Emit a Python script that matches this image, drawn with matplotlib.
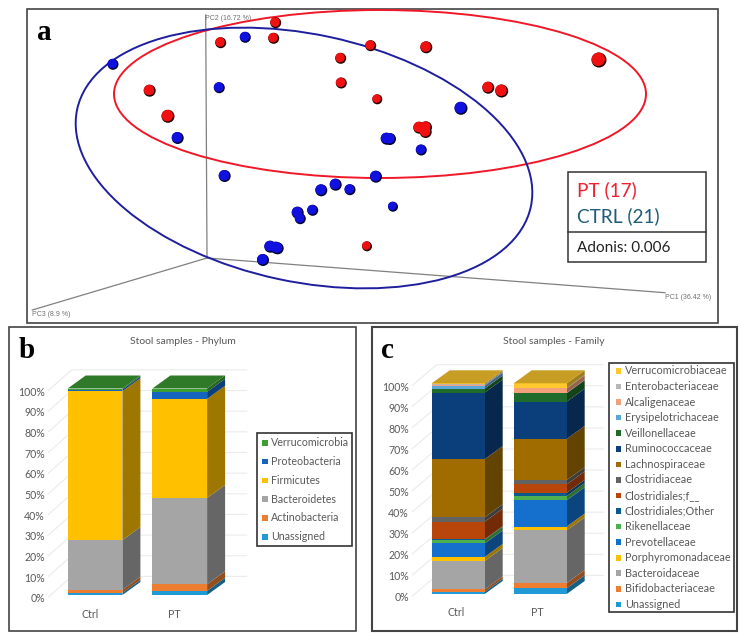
import matplotlib
matplotlib.use("Agg")
import matplotlib.pyplot as plt
from matplotlib.patches import Ellipse, Polygon, Rectangle
from matplotlib.transforms import offset_copy

W, H = 747, 639
plt.rcParams["font.family"] = ["Lato", "DejaVu Sans"]

# ---- panel a: ordination points (image pixels)
pt_x = [275.7, 220.7, 273.7, 370.7, 340.7, 341.3, 149.7, 168.0, 377.3, 367.0,
        426.3, 599.0, 488.3, 501.7, 419.3, 426.0, 425.7]
pt_y = [22.7, 42.7, 38.3, 45.7, 58.3, 83.0, 90.7, 116.3, 99.3, 246.3,
        47.3, 60.0, 87.7, 91.0, 127.7, 127.3, 132.0]
pt_d = [11, 11, 11, 11, 11, 11, 12, 13, 10, 10, 12, 15, 12, 13, 12, 12, 12]

ctrl_x = [113.0, 245.3, 219.3, 177.7, 224.7, 321.3, 335.7, 350.0, 312.7, 297.7, 300.3,
          270.3, 277.7, 276.0, 263.0, 376.0, 461.0, 386.7, 390.0, 421.3, 393.0]
ctrl_y = [64.3, 37.3, 87.7, 138.0, 176.0, 190.3, 184.7, 189.7, 210.3, 212.7, 218.7,
          246.7, 248.3, 247.7, 260.0, 176.7, 108.3, 138.7, 139.0, 150.0, 206.7]
ctrl_d = [11, 11, 11, 12, 12, 12, 12, 11, 11, 12, 11, 12, 12, 12, 12, 12, 13, 12, 12, 11, 10]

# ---- panel b: phylum, cumulative percent at the top of each segment
phylum_names = ["Unassigned", "Actinobacteria", "Bacteroidetes", "Firmicutes",
                "Proteobacteria", "Verrucomicrobia"]
phylum_colors = ["#1F9AD6", "#ED7D31", "#A5A5A5", "#FFC000", "#1565C0", "#3C9D33"]
phylum_ctrl = [1.0, 2.5, 26.6, 98.7, 99.5, 100]
phylum_pt = [2.0, 5.2, 47.0, 95.0, 98.4, 100]

# ---- panel c: family, cumulative percent as well
family_names = ["Unassigned", "Bifidobacteriaceae", "Bacteroidaceae", "Porphyromonadaceae",
                "Prevotellaceae", "Rikenellaceae", "Clostridiales;Other", "Clostridiales;f__",
                "Clostridiaceae", "Lachnospiraceae", "Ruminococcaceae", "Veillonellaceae",
                "Erysipelotrichaceae", "Alcaligenaceae", "Enterobacteriaceae",
                "Verrucomicrobiaceae"]
family_colors = ["#1F9AD6", "#ED7D31", "#A5A5A5", "#FFC000", "#1470CC", "#4CAF50",
                 "#0B5A8C", "#B8450A", "#636363", "#A06C00", "#0B3F7C", "#1F6B2C",
                 "#5BA8D8", "#F4A07A", "#B7B7B7", "#FFC92E"]
family_ctrl = [1.0, 2.2, 15.7, 17.6, 24.0, 25.8, 26.0, 34.3, 36.4, 64.0, 95.6, 97.5,
               98.9, 99.0, 99.5, 100]
family_pt = [2.7, 5.2, 30.2, 32.0, 44.5, 46.5, 48.0, 52.0, 54.0, 73.6, 91.3, 95.3,
             95.4, 97.6, 97.8, 100]

groups = ["Ctrl", "PT"]
pct_ticks = list(range(0, 101, 10))

GREY = "#595959"
DEPTH_X, DEPTH_Y = 18, 13


def shade(color, k):
    r, g, b = matplotlib.colors.to_rgb(color)
    return (r * k, g * k, b * k)


def frame(ax, x0, y0, x1, y1, lw=1.2, ec="#444444"):
    ax.add_patch(Rectangle((x0, y0), x1 - x0, y1 - y0, fc="none", ec=ec, lw=lw))


def spheres(ax, xs, ys, ds, color, dark):
    s_dark = [(d * 0.72) ** 2 for d in ds]
    s_main = [((d - 1.5) * 0.72) ** 2 for d in ds]
    ax.scatter(xs, ys, s=s_dark, color=dark, lw=0, zorder=4)
    tr = offset_copy(ax.transData, fig=ax.figure, x=-0.5, y=0.5, units="points")
    ax.scatter(xs, ys, s=s_main, color=color, lw=0, transform=tr, zorder=5)


def stacked_3d(fig, x_bar0, pitch, bar_w, y0, y100, grid_x, colors, ctrl, pt, label_x, cat_y):
    """Excel style 3D stacked columns, one axes per panel with y in percent."""
    left = x_bar0 + bar_w / 2 - pitch / 2
    ax = fig.add_axes([left / W, 1 - y0 / H, 2 * pitch / W, (y0 - y100) / H])
    ax.set_xlim(-0.5, 1.5)
    ax.set_ylim(0, 100)
    ax.axis("off")
    ax.patch.set_alpha(0)

    ux = pitch
    uy = (y0 - y100) / 100
    dx = DEPTH_X / ux
    dy = DEPTH_Y / uy
    w = bar_w / ux

    # back wall and floor lines, very light
    gx = [(g - left) / ux - 0.5 for g in grid_x]
    for t in pct_ticks:
        ax.plot(gx, [t - 1, t + 20.7 / uy - 1, t + 20.7 / uy - 1],
                color="#EBEBEB", lw=0.8, clip_on=False, zorder=1)
        ax.text(gx[0] - 3.5 / ux, t - 1.8, f"{t}%", ha="right", va="center",
                fontsize=7.6, color=GREY, clip_on=False)

    for i, vals in enumerate([ctrl, pt]):
        bottom = 0
        xl = i - w / 2
        xr = i + w / 2
        for top, c in zip(vals, colors):
            ax.bar(i, top - bottom, w, bottom=bottom, color=c, lw=0, zorder=3)
            ax.add_patch(Polygon([(xr, bottom), (xr + dx, bottom + dy),
                                  (xr + dx, top + dy), (xr, top)],
                                 fc=shade(c, 0.62), ec="none", clip_on=False, zorder=2))
            bottom = top
        ax.add_patch(Polygon([(xl, 100), (xl + dx, 100 + dy), (xr + dx, 100 + dy), (xr, 100)],
                             fc=shade(colors[-1], 0.78), ec="none", clip_on=False, zorder=3))
        ax.text(label_x[i], (y0 - cat_y) / uy, groups[i], ha="center", va="center",
                fontsize=7.6, color=GREY, clip_on=False)
    return ax


fig = plt.figure(figsize=(W / 100, H / 100), dpi=100)
bg = fig.add_axes([0, 0, 1, 1])
bg.set_xlim(0, W)
bg.set_ylim(H, 0)
bg.axis("off")

# ---- panel a
frame(bg, 27, 9, 718, 323)
frame(bg, 9, 327, 356, 631)
frame(bg, 372, 327, 737, 631, lw=1.5)

for xs, ys in [([205.7, 207], [15, 258]), ([207, 32.3], [258, 310]), ([207, 665], [258, 292.7])]:
    bg.plot(xs, ys, color="#808080", lw=0.9, zorder=1)
bg.text(205, 18, "PC2 (16.72 %)", fontsize=5, color="#707070", va="center", family="Liberation Sans")
bg.text(32, 315, "PC3 (8.9 %)", fontsize=5, color="#707070", va="center", family="Liberation Sans")
bg.text(665, 297.5, "PC1 (36.42 %)", fontsize=5, color="#707070", va="center", family="Liberation Sans")

bg.add_patch(Ellipse((380, 94), 532, 168, fc="none", ec="#F01828", lw=1.4, zorder=3))
bg.add_patch(Ellipse((304, 158), 464, 247.4, angle=12.1, fc="none", ec="#1E1E9E", lw=1.4, zorder=3))
spheres(bg, ctrl_x, ctrl_y, ctrl_d, "#1010E0", "#000030")
spheres(bg, pt_x, pt_y, pt_d, "#F01010", "#200000")

bg.add_patch(Rectangle((567.7, 171.7), 138.3, 90.3, fc="white", ec="#333333", lw=1.1, zorder=6))
bg.plot([567.7, 706], [232.3, 232.3], color="#333333", lw=1.1, zorder=7)
bg.text(576.7, 190.5, "PT (17)", color="#F02030", fontsize=13.7, va="center", zorder=7)
bg.text(576.7, 216, "CTRL (21)", color="#1F5C7A", fontsize=13.7, va="center", zorder=7)
bg.text(576.7, 247.5, "Adonis: 0.006", color="#222222", fontsize=11, va="center", zorder=7)

for letter, x, y in [("a", 37, 33), ("b", 19, 350), ("c", 381, 351)]:
    bg.text(x, y, letter, fontsize=21, fontweight="bold", family="Liberation Serif",
            ha="left", va="center", color="black")

# ---- panels b and c
bg.text(182.7, 341, "Stool samples - Phylum", fontsize=7.5, color=GREY, ha="center", va="center")
bg.text(554, 341.7, "Stool samples - Family", fontsize=7.5, color=GREY, ha="center", va="center")

stacked_3d(fig, 67.7, 84.7, 54.7, 595, 388.5, (48.3, 71.7, 246.7),
           phylum_colors, phylum_ctrl, phylum_pt, [-0.06, 0.94], 614)
stacked_3d(fig, 431.7, 82, 53, 594, 383.3, (412.3, 436.7, 603),
           family_colors, family_ctrl, family_pt, [-0.03, 0.97], 613)

# hand placed legends, same order as the reference (top of the stack first)
frame(bg, 256.7, 433, 351.7, 545.7, ec="#333333")
for k, (name, c) in enumerate(zip(reversed(phylum_names), reversed(phylum_colors))):
    y = 442.7 + k * 18.8
    bg.add_patch(Rectangle((262.3, y - 2.8), 5.6, 5.6, fc=c, ec="none"))
    bg.text(271.3, y, name, fontsize=7.7, color=GREY, va="center")

frame(bg, 609.3, 363.3, 734, 612.3, ec="#333333")
for k, (name, c) in enumerate(zip(reversed(family_names), reversed(family_colors))):
    y = 371 + k * 15.56
    bg.add_patch(Rectangle((615.5, y - 2.8), 5.6, 5.6, fc=c, ec="none"))
    bg.text(624.7, y, name, fontsize=7.8, color=GREY, va="center")

fig.savefig("out.png", dpi=100)
